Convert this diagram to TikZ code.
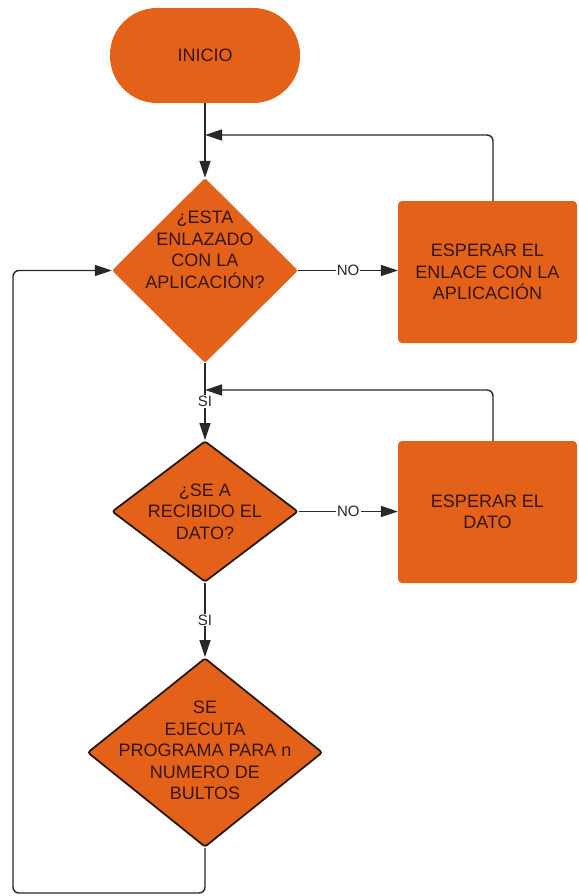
\documentclass[tikz,border=0pt]{standalone}
\usepackage{fontspec}
\setmainfont{Liberation Sans}
\usetikzlibrary{shapes.geometric, arrows.meta, calc}
\definecolor{flowfill}{RGB}{228,97,26}
\definecolor{flowtext}{RGB}{52,22,16}
\definecolor{flowline}{RGB}{40,40,40}
\definecolor{flowedge}{RGB}{40,24,18}
\tikzset{
  every node/.style={font=\fontsize{18}{21.5}\selectfont, text=flowtext},
  terminal/.style={rectangle, fill=flowfill, rounded corners=47pt,
    minimum width=190pt, minimum height=95pt, inner sep=0pt},
  decision/.style={diamond, fill=flowfill, inner sep=0pt, rounded corners=2.5pt},
  outlined/.style={draw=flowedge, line width=1.8pt},
  process/.style={rectangle, fill=flowfill, rounded corners=4pt,
    minimum width=179pt, minimum height=142pt, align=center, inner sep=0pt},
  caption/.style={align=center, inner sep=0pt},
  conn/.style={draw=flowline, line width=1.4pt, -{Triangle[length=17pt,width=11pt]}},
  edgelabel/.style={fill=white, font=\fontsize{15}{16}\selectfont, text=flowline, inner sep=1pt}
}
\begin{document}
\begin{tikzpicture}[x=1pt, y=-1pt]
  \useasboundingbox (0,0) rectangle (578,896);
  \fill[white] (0,0) rectangle (578,896);
  \clip (0,0) rectangle (578,896);

  % shapes
  \node[terminal] (start) at (205,55.5) {INICIO};
  \node[decision, minimum width=186pt, minimum height=185pt] (d1) at (205,270.5) {};
  \node[caption] (d1t) at (205,250) {¿ESTA\\ENLAZADO\\CON LA\\APLICACIÓN?};
  \node[process] (b1) at (487.5,272) {ESPERAR EL\\ENLACE CON LA\\APLICACIÓN};
  \node[decision, outlined, minimum width=186pt, minimum height=141pt] (d2) at (205,511.5) {};
  \node[caption] (d2t) at (d2) {¿SE A\\RECIBIDO EL\\DATO?};
  \node[process] (b2) at (487.5,512) {ESPERAR EL\\DATO};
  \node[decision, outlined, minimum width=235pt, minimum height=189pt] (d3) at (205,752.5) {};
  \node[caption] (d3t) at (205,750.5) {SE\\EJECUTA\\PROGRAMA PARA n\\NUMERO DE\\BULTOS};

  % junctions of the return lines
  \coordinate (j1) at (205,135);
  \coordinate (j2) at (205,390);
  \coordinate (lb) at (13,893);

  % connectors
  \draw[conn] (start) -- (d1);
  \draw[conn, rounded corners=6pt] ([xshift=5.5pt]b1.north) |- (j1);
  \draw[conn] (d1.east) -- node[edgelabel] {NO} (d1.east -| b1.west);
  \draw[conn] (d1) -- node[edgelabel] {SI} (d2);
  \draw[conn, rounded corners=6pt] ([xshift=5.5pt]b2.north) |- (j2);
  \draw[conn] (d2.east) -- node[edgelabel] {NO} (d2.east -| b2.west);
  \draw[conn] (d2) -- node[edgelabel] {SI} (d3);
  \draw[conn, rounded corners=6pt] (d3.south) |- (lb) |- (d1.west);
\end{tikzpicture}
\end{document}
